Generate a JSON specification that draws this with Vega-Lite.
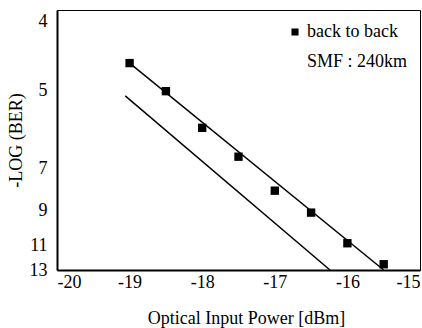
{
  "$schema": "https://vega.github.io/schema/vega-lite/v6.json",
  "width": 363,
  "height": 260,
  "autosize": {"type": "none"},
  "padding": {"left": 57, "top": 10, "right": 2, "bottom": 58},
  "background": "white",
  "config": {
    "font": "Liberation Serif",
    "view": {"stroke": "black", "strokeWidth": 1},
    "axis": {
      "domainColor": "black",
      "domainWidth": 2,
      "grid": false,
      "ticks": false,
      "labelColor": "black",
      "titleColor": "black",
      "labelFont": "Liberation Serif",
      "titleFont": "Liberation Serif",
      "labelFontSize": 18,
      "titleFontSize": 18,
      "titleFontWeight": "normal"
    },
    "legend": {
      "labelFont": "Liberation Serif",
      "labelFontSize": 18,
      "labelColor": "black"
    }
  },
  "datasets": {
    "pts": [
      {"power": -19.0, "nlogber": 4.61, "series": "back to back"},
      {"power": -18.5, "nlogber": 5.03, "series": "back to back"},
      {"power": -18.0, "nlogber": 5.97, "series": "back to back"},
      {"power": -17.5, "nlogber": 6.71, "series": "back to back"},
      {"power": -17.0, "nlogber": 8.08, "series": "back to back"},
      {"power": -16.5, "nlogber": 9.15, "series": "back to back"},
      {"power": -16.0, "nlogber": 10.9, "series": "back to back"},
      {"power": -15.5, "nlogber": 12.54, "series": "back to back"}
    ],
    "fits": [
      {"power": -19.0, "nlogber": 4.61, "line": "back to back"},
      {"power": -15.5, "nlogber": 13.0, "line": "back to back"},
      {"power": -19.06, "nlogber": 5.15, "line": "SMF 240km"},
      {"power": -16.24, "nlogber": 13.0, "line": "SMF 240km"}
    ]
  },
  "encoding": {
    "x": {
      "field": "power",
      "type": "quantitative",
      "scale": {"domain": [-20, -15], "nice": false, "zero": false},
      "axis": {
        "title": "Optical Input Power [dBm]",
        "values": [-20, -19, -18, -17, -16, -15],
        "labelExpr": "replace(datum.label, '\u2212', '-')",
        "labelPadding": 3,
        "titlePadding": 18,
        "titleX": 189
      }
    },
    "y": {
      "field": "nlogber",
      "type": "quantitative",
      "scale": {
        "domain": [3.84, 4, 5, 7, 9, 11, 13],
        "range": [0, 11, 80, 158, 200, 235, 260],
        "nice": false,
        "zero": false
      },
      "axis": {
        "title": "-LOG (BER)",
        "values": [4, 5, 7, 9, 11, 13],
        "labelPadding": 10,
        "titlePadding": 4
      }
    }
  },
  "layer": [
    {
      "data": {"name": "fits"},
      "mark": {"type": "line", "color": "black", "strokeWidth": 1.5},
      "encoding": {"detail": {"field": "line", "type": "nominal"}}
    },
    {
      "data": {"name": "pts"},
      "mark": {"type": "point", "filled": true, "color": "black", "size": 70, "opacity": 1},
      "encoding": {
        "shape": {
          "field": "series",
          "type": "nominal",
          "scale": {
            "domain": ["back to back", "SMF : 240km"],
            "range": ["square", "M0,0"]
          },
          "legend": {
            "title": null,
            "orient": "none",
            "legendX": 229,
            "legendY": 13,
            "padding": 0,
            "symbolSize": 50,
            "symbolFillColor": "black",
            "symbolStrokeColor": "black",
            "symbolOpacity": 1,
            "labelOffset": 3,
            "rowPadding": 12
          }
        }
      }
    }
  ]
}
